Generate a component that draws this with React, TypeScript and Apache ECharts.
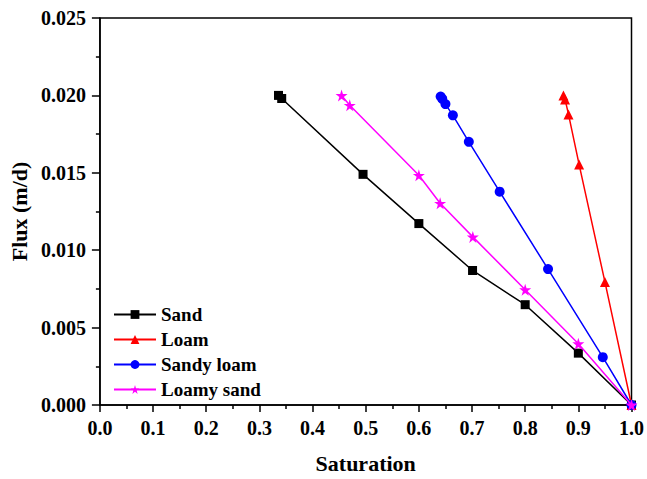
import React, { useEffect, useRef } from "react";
import * as echarts from "echarts";

const seriesNames = ["Sand", "Loam", "Sandy loam", "Loamy sand"];
const sandSat = [0.336, 0.342, 0.495, 0.6, 0.701, 0.8, 0.9, 1.0];
const sandFlux = [0.02, 0.0198, 0.0149, 0.01172, 0.00869, 0.00648, 0.00335, 0.0];
const loamSat = [0.872, 0.875, 0.8815, 0.9015, 0.95, 1.0];
const loamFlux = [0.02, 0.01974, 0.01877, 0.01553, 0.00795, 0.0];
const sandyLoamSat = [0.641, 0.644, 0.65, 0.664, 0.694, 0.752, 0.843, 0.946, 1.0];
const sandyLoamFlux = [0.01993, 0.01978, 0.01944, 0.01871, 0.017, 0.01378, 0.00878, 0.00309, 0.0];
const loamySandSat = [0.4546, 0.47, 0.6, 0.64, 0.7015, 0.8, 0.9, 1.0];
const loamySandFlux = [0.02, 0.01936, 0.01484, 0.01303, 0.01086, 0.00745, 0.00396, 0.0];

const colors = ["#000000", "#ff0000", "#0000ff", "#ff00ff"];
const symbols = ["rect", "triangle", "circle", "path://M50,0 L61,35 L98,35 L68,57 L79,91 L50,70 L21,91 L32,57 L2,35 L39,35 Z"];
const symbolSizes = [9, 10, 10, 12];

const FONT = "Liberation Serif";

export default function App() {
  const ref = useRef<HTMLDivElement>(null);
  useEffect(() => {
    if (!ref.current) return;
    const chart = echarts.init(ref.current, null, { renderer: "svg" });
    const sats = [sandSat, loamSat, sandyLoamSat, loamySandSat];
    const fluxes = [sandFlux, loamFlux, sandyLoamFlux, loamySandFlux];
    const series = seriesNames.map((name, i) => ({
      name,
      type: "line",
      data: sats[i].map((s, j) => [s, fluxes[i][j]]),
      symbol: symbols[i],
      symbolSize: symbolSizes[i],
      showAllSymbol: true,
      lineStyle: { color: colors[i], width: 1.5 },
      itemStyle: { color: colors[i] },
      z: 2 + i,
    }));
    chart.setOption({
      animation: false,
      backgroundColor: "#ffffff",
      textStyle: { fontFamily: FONT },
      grid: {
        left: 97,
        right: 14,
        top: 18,
        bottom: 65,
        show: true,
        borderColor: "#000",
        borderWidth: 1.5,
      },
      legend: {
        orient: "vertical",
        left: 113,
        top: 305,
        padding: 0,
        itemWidth: 42,
        itemHeight: 11,
        itemGap: 6,
        textStyle: {
          fontFamily: FONT,
          fontWeight: "bold",
          fontSize: 19,
          color: "#000",
          lineHeight: 19,
        },
        data: seriesNames,
      },
      xAxis: {
        type: "value",
        min: 0,
        max: 1,
        interval: 0.1,
        name: "Saturation",
        nameLocation: "middle",
        nameGap: 47,
        nameTextStyle: { fontFamily: FONT, fontWeight: "bold", fontSize: 22, color: "#000" },
        axisLine: { show: true, lineStyle: { color: "#000", width: 1.5 } },
        axisTick: { show: true, inside: false, length: 7, lineStyle: { color: "#000", width: 1.5 } },
        minorTick: { show: true, splitNumber: 2, length: 4, lineStyle: { color: "#000", width: 1.5 } },
        splitLine: { show: false },
        axisLabel: {
          fontFamily: FONT,
          fontWeight: "bold",
          fontSize: 20,
          color: "#000",
          margin: 13,
          formatter: (v: number) => v.toFixed(1),
        },
      },
      yAxis: {
        type: "value",
        min: 0,
        max: 0.025,
        interval: 0.005,
        name: "Flux (m/d)",
        nameLocation: "middle",
        nameGap: 66,
        nameRotate: 90,
        nameTextStyle: { fontFamily: FONT, fontWeight: "bold", fontSize: 22, color: "#000" },
        axisLine: { show: true, lineStyle: { color: "#000", width: 1.5 } },
        axisTick: { show: true, inside: false, length: 8, lineStyle: { color: "#000", width: 1.5 } },
        minorTick: { show: true, splitNumber: 2, length: 4, lineStyle: { color: "#000", width: 1.5 } },
        splitLine: { show: false },
        axisLabel: {
          fontFamily: FONT,
          fontWeight: "bold",
          fontSize: 20,
          color: "#000",
          margin: 14,
          formatter: (v: number) => v.toFixed(3),
        },
      },
      series,
    });
    return () => chart.dispose();
  }, []);
  return <div ref={ref} style={{ width: 647, height: 479, position: "fixed", left: 0, top: 0 }} />;
}
